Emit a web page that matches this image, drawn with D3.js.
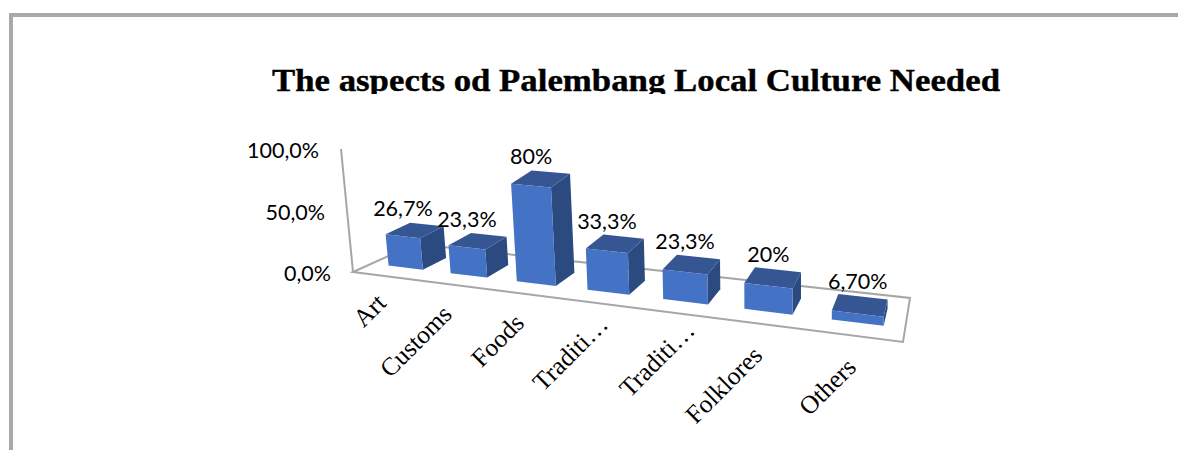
<!DOCTYPE html>
<html><head><meta charset="utf-8">
<script src="https://cdn.jsdelivr.net/npm/d3@7/dist/d3.min.js"></script>
<style>html,body{margin:0;padding:0;background:#fff;overflow:hidden}</style></head>
<body><svg id="c" width="1178" height="450"></svg>
<script>
const categories=["Art","Customs","Foods","Traditi…","Traditi…","Folklores","Others"];
const values=[26.7,23.3,80,33.3,23.3,20,6.7];
const valueLabels=["26,7%","23,3%","80%","33,3%","23,3%","20%","6,70%"];
const yTicks=[0,50,100];
const yTickLabels=["0,0%","50,0%","100,0%"];
const title="The aspects od Palembang Local Culture Needed";
// layout only: fine nudges of the rotated category labels
const labelNudgeX=[-3,-2,1,11,18,0,1];
const labelNudgeY=[-7,-4,-4,-12,-16,-2,-2];

const svg=d3.select("#c");
svg.append("path").attr("d","M11,450V15H1178").attr("fill","none").attr("stroke","#a9a9a9").attr("stroke-width",4);
svg.append("clipPath").attr("id","tc").append("rect").attr("x",200).attr("y",50).attr("width",900).attr("height",44);
svg.append("text").attr("x",636).attr("y",91).attr("text-anchor","middle").attr("clip-path","url(#tc)")
 .attr("font-family","'Liberation Serif'").attr("font-weight","bold").attr("font-size",32).attr("fill","#000")
 .attr("stroke","#000").attr("stroke-width",0.4)
 .attr("textLength",728).attr("lengthAdjust","spacingAndGlyphs").text(title);

const Q=[[353,272],[903,342],[910,298],[415,244]];
const H=(()=>{const [a,b,c,e]=Q;
 const dx1=b[0]-c[0],dx2=e[0]-c[0],sx=a[0]-b[0]+c[0]-e[0];
 const dy1=b[1]-c[1],dy2=e[1]-c[1],sy=a[1]-b[1]+c[1]-e[1];
 const D=dx1*dy2-dx2*dy1;
 const g=(sx*dy2-dx2*sy)/D,h=(dx1*sy-sx*dy1)/D;
 return {A:b[0]-a[0]+g*b[0],B:e[0]-a[0]+h*e[0],C:a[0],E:b[1]-a[1]+g*b[1],F:e[1]-a[1]+h*e[1],G:a[1],g,h};})();
const floor=(u,d)=>{const w=H.g*u+H.h*d+1;return [(H.A*u+H.B*d+H.C)/w,(H.E*u+H.F*d+H.G)/w];};

const uScale=d3.scaleBand().domain(d3.range(categories.length)).range([0.008,1]).paddingInner(0.44).paddingOuter(0.225);
const kScale=d3.scaleLinear().domain([387,832]).range([1.17,1.33]);
const tiltScale=d3.scaleLinear().domain([353,760]).range([-0.12,0]).clamp(true);
const lift=(p,v)=>[p[0]+tiltScale(p[0])*v,p[1]-kScale(p[0])*v];
const D0=0.28,D1=0.68;

const yAxis=d3.scaleLinear().domain([0,100]).range([0,123]);
const axisPt=v=>[353-12*v/100,272-yAxis(v)];
const grey="#a6a6a6";
svg.append("path").attr("d","M"+[Q[0],Q[1],Q[2],Q[3]].join("L")+"Z").attr("fill","none").attr("stroke",grey).attr("stroke-width",2);
svg.append("path").attr("d","M"+axisPt(0)+"L"+axisPt(100)).attr("fill","none").attr("stroke",grey).attr("stroke-width",2);
const body="Lato,'Open Sans',sans-serif";
yTicks.forEach((t,i)=>{const p=axisPt(t);
 svg.append("text").attr("x",p[0]-22).attr("y",p[1]+9).attr("text-anchor","end").attr("font-family",body).attr("font-size",21.5).attr("fill","#000").text(yTickLabels[i]);});

values.forEach((v,i)=>{
 const u0=uScale(i),u1=u0+uScale.bandwidth();
 const fl=floor(u0,D0),fr=floor(u1,D0),br=floor(u1,D1),bl=floor(u0,D1);
 const tfl=lift(fl,v),tfr=lift(fr,v),tbr=lift(br,v),tbl=lift(bl,v);
 const poly=(pts,fill)=>svg.append("polygon").attr("points",pts.join(" ")).attr("fill",fill);
 poly([fr,br,tbr,tfr],"#2b4a80");
 poly([tfl,tfr,tbr,tbl],"#355693");
 poly([fl,fr,tfr,tfl],"#4472c4");
 const cx=(tfl[0]+tfr[0])/2,cy=(tbl[1]+tbr[1])/2;
 svg.append("text").attr("x",cx).attr("y",cy-8).attr("text-anchor","middle").attr("font-family",body).attr("font-size",21.5).attr("fill","#000").text(valueLabels[i]);
 const a=floor((u0+u1)/2,0);
 svg.append("text").attr("transform",`translate(${a[0]+3+labelNudgeX[i]},${a[1]+35+labelNudgeY[i]}) rotate(-45)`).attr("text-anchor","end")
  .attr("font-family","'Liberation Serif'").attr("font-size",25.5).attr("fill","#000").text(categories[i]);
});
</script></body></html>
